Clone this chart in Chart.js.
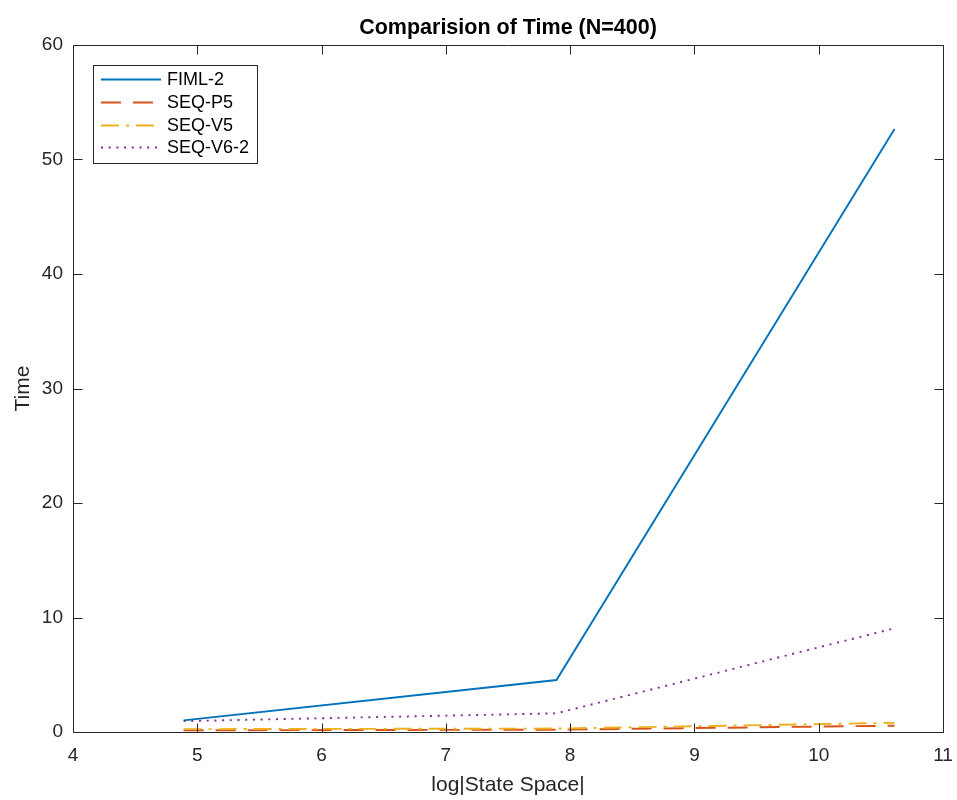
<!DOCTYPE html>
<html>
<head>
<meta charset="utf-8">
<script src="https://cdn.jsdelivr.net/npm/chart.js@4.4.1/dist/chart.umd.min.js"></script>
<style>
  html, body { margin: 0; padding: 0; background: #ffffff; }
  #wrap { width: 957px; height: 800px; }
</style>
</head>
<body>
<div id="wrap"><canvas id="c" width="957" height="800"></canvas></div>
<script>
// ---- data ----
const stateSpaceLog = [4.89, 7.89, 10.61];
const fiml2 = [1.02, 4.54, 52.66];
const seqP5 = [0.15, 0.20, 0.55];
const seqV5 = [0.25, 0.30, 0.80];
const seqV62 = [0.95, 1.63, 9.06];
const seriesNames = ['FIML-2', 'SEQ-P5', 'SEQ-V5', 'SEQ-V6-2'];
const xTicks = [4, 5, 6, 7, 8, 9, 10, 11];
const yTicks = [0, 10, 20, 30, 40, 50, 60];
const chartTitle = 'Comparision of Time (N=400)';
const xTitle = 'log|State Space|';
const yTitle = 'Time';

const colors = ['#0072BD', '#D95319', '#EDB120', '#7E2F8E'];
const dashes = [[], [20, 12], [18, 7, 3, 7], [2, 5.7]];
const FONT = '"Liberation Sans", Arial, Helvetica, sans-serif';

function pts(vals) { return stateSpaceLog.map((x, i) => ({ x: x, y: vals[i] })); }
const allVals = [fiml2, seqP5, seqV5, seqV62];

const datasets = allVals.map((v, i) => ({
  label: seriesNames[i],
  data: pts(v),
  borderColor: colors[i],
  backgroundColor: colors[i],
  borderWidth: 1.9,
  borderDash: dashes[i],
  pointRadius: 0,
  fill: false,
  tension: 0,
  order: 4 - i
}));

const decor = {
  id: 'decor',
  afterDatasetsDraw(chart) {
    const ctx = chart.ctx;
    const a = chart.chartArea;
    const xs = chart.scales.x, ys = chart.scales.y;
    ctx.save();
    // axes box
    ctx.strokeStyle = '#262626';
    ctx.lineWidth = 1;
    const L = Math.round(a.left) + 0.5, R = Math.round(a.right) + 0.5;
    const T = Math.round(a.top) + 0.5, B = Math.round(a.bottom) + 0.5;
    ctx.beginPath();
    ctx.rect(L, T, R - L, B - T);
    ctx.stroke();
    // inward ticks
    const tl = 9;
    ctx.beginPath();
    xTicks.forEach(v => {
      const px = Math.round(xs.getPixelForValue(v)) + 0.5;
      ctx.moveTo(px, B); ctx.lineTo(px, B - tl);
      ctx.moveTo(px, T); ctx.lineTo(px, T + tl);
    });
    yTicks.forEach(v => {
      const py = Math.round(ys.getPixelForValue(v)) + 0.5;
      ctx.moveTo(L, py); ctx.lineTo(L + tl, py);
      ctx.moveTo(R, py); ctx.lineTo(R - tl, py);
    });
    ctx.stroke();

    // legend
    const bx = 93.5, by = 65.5, bw = 164, bh = 98;
    ctx.fillStyle = '#ffffff';
    ctx.fillRect(bx, by, bw, bh);
    ctx.strokeStyle = '#262626';
    ctx.lineWidth = 1;
    ctx.strokeRect(bx, by, bw, bh);
    const rows = [79.5, 102.5, 125.5, 147.5];
    chart.data.datasets.forEach((ds, i) => {
      ctx.beginPath();
      ctx.setLineDash(ds.borderDash || []);
      ctx.strokeStyle = ds.borderColor;
      ctx.lineWidth = ds.borderWidth;
      ctx.moveTo(101, rows[i]);
      ctx.lineTo(161, rows[i]);
      ctx.stroke();
      ctx.setLineDash([]);
      ctx.fillStyle = '#000000';
      ctx.font = '18px ' + FONT;
      ctx.textAlign = 'left';
      ctx.textBaseline = 'middle';
      ctx.fillText(ds.label, 167, rows[i] + 1);
    });

    // title
    ctx.fillStyle = '#000000';
    ctx.font = 'bold 21.5px ' + FONT;
    ctx.textAlign = 'center';
    ctx.textBaseline = 'alphabetic';
    ctx.fillText(chartTitle, (a.left + a.right) / 2, 34);
    ctx.restore();
  }
};

new Chart(document.getElementById('c'), {
  type: 'line',
  data: { datasets: datasets },
  plugins: [decor],
  options: {
    responsive: false,
    animation: false,
    devicePixelRatio: 1,
    layout: { padding: { top: 45, right: 14, left: 0, bottom: 0 } },
    plugins: { legend: { display: false }, title: { display: false }, tooltip: { enabled: false } },
    scales: {
      x: {
        type: 'linear', min: 4, max: 11,
        afterBuildTicks: s => { s.ticks = xTicks.map(v => ({ value: v })); },
        afterFit: s => { s.height = 68; s.paddingLeft = 0; s.paddingRight = 0; },
        grid: { display: false, drawTicks: false },
        border: { display: false },
        ticks: { color: '#262626', padding: 12, font: { family: FONT, size: 19 }, maxRotation: 0, autoSkip: false },
        title: { display: true, text: xTitle, color: '#262626', font: { family: FONT, size: 21 }, padding: { top: 0, bottom: 2 } }
      },
      y: {
        type: 'linear', min: 0, max: 60,
        afterBuildTicks: s => { s.ticks = yTicks.map(v => ({ value: v })); },
        afterFit: s => { s.width = 73; s.paddingTop = 0; s.paddingBottom = 0; },
        grid: { display: false, drawTicks: false },
        border: { display: false },
        ticks: { color: '#262626', padding: 10, font: { family: FONT, size: 19 }, autoSkip: false },
        title: { display: true, text: yTitle, color: '#262626', font: { family: FONT, size: 21 }, padding: { top: 11, bottom: 0 } }
      }
    }
  }
});
</script>
</body>
</html>
